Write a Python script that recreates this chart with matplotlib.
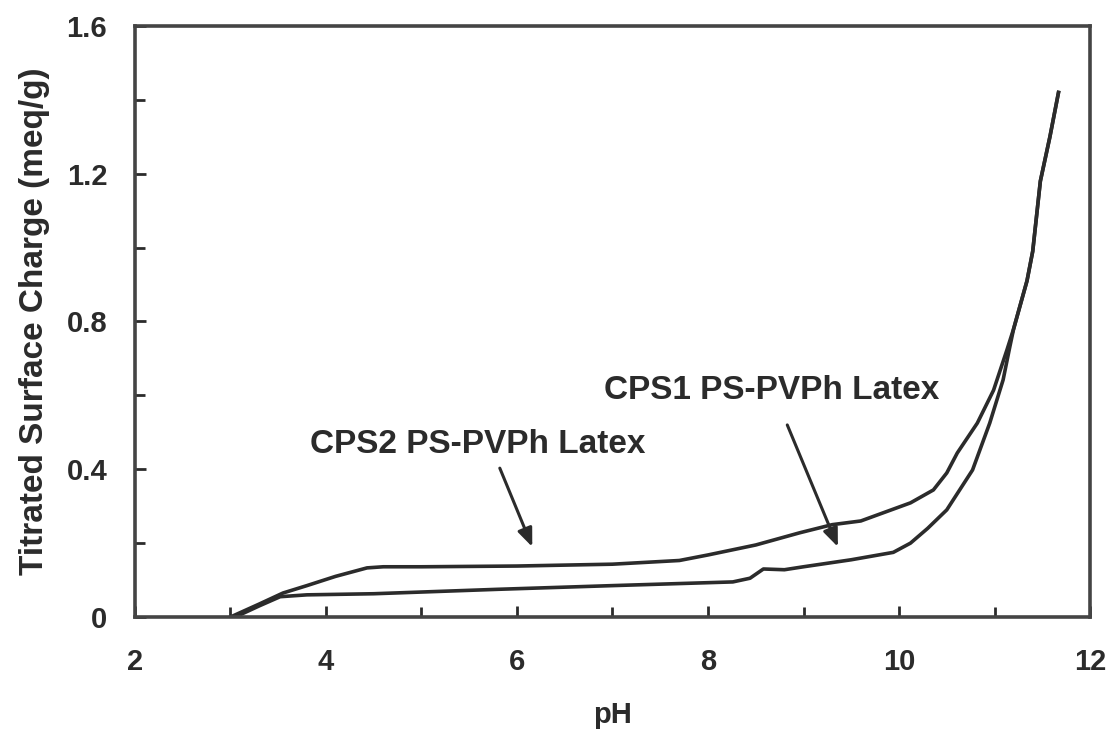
import matplotlib.pyplot as plt
from matplotlib.ticker import MultipleLocator

# CPS2 latex (upper curve at low pH)
ph_cps2 = [3.0, 3.3, 3.55, 3.8, 4.1, 4.43, 4.6, 5.0, 6.0, 7.0, 7.7, 8.0, 8.5,
           8.96, 9.3, 9.6, 10.12, 10.36, 10.5, 10.61, 10.82, 10.99, 11.13,
           11.2, 11.34, 11.4, 11.48, 11.58, 11.67]
q_cps2 = [0.0, 0.035, 0.065, 0.085, 0.11, 0.133, 0.136, 0.136, 0.138, 0.143,
          0.153, 0.168, 0.195, 0.228, 0.25, 0.26, 0.309, 0.344, 0.39, 0.444,
          0.525, 0.614, 0.723, 0.78, 0.91, 0.99, 1.18, 1.30, 1.42]

# CPS1 latex (lower curve at low pH)
ph_cps1 = [3.05, 3.3, 3.52, 3.8, 4.5, 5.8, 7.0, 8.26, 8.44, 8.58, 8.8, 9.0,
           9.5, 9.94, 10.12, 10.3, 10.5, 10.77, 10.95, 11.09, 11.16, 11.2,
           11.34, 11.4, 11.48, 11.58, 11.67]
q_cps1 = [0.0, 0.03, 0.055, 0.06, 0.063, 0.075, 0.085, 0.095, 0.105, 0.13,
          0.128, 0.136, 0.155, 0.175, 0.2, 0.24, 0.29, 0.398, 0.525, 0.642,
          0.731, 0.78, 0.91, 0.99, 1.18, 1.30, 1.42]

plt.rcParams['font.family'] = ['Liberation Sans', 'DejaVu Sans']
ink = '#2b2b2b'

fig = plt.figure(figsize=(11.1, 7.4), dpi=100)
ax = fig.add_axes([0.1216, 0.1662, 0.8604, 0.7987])

ax.plot(ph_cps2, q_cps2, color=ink, lw=2.6, solid_joinstyle='round')
ax.plot(ph_cps1, q_cps1, color=ink, lw=2.6, solid_joinstyle='round')

ax.set_xlim(2, 12)
ax.set_ylim(0, 1.6)
ax.xaxis.set_major_locator(MultipleLocator(2))
ax.xaxis.set_minor_locator(MultipleLocator(1))
ax.yaxis.set_minor_locator(MultipleLocator(0.2))
ax.set_yticks([0, 0.4, 0.8, 1.2, 1.6])
ax.set_yticklabels(['0', '0.4', '0.8', '1.2', '1.6'])

ax.tick_params(which='both', direction='in', color=ink, width=2)
ax.tick_params(which='major', length=8)
ax.tick_params(which='minor', length=7)
ax.tick_params(axis='x', which='major', pad=22)
ax.tick_params(axis='y', which='major', pad=20)
for lab in ax.get_xticklabels() + ax.get_yticklabels():
    lab.set_fontsize(21)
    lab.set_fontweight('bold')
    lab.set_color(ink)

for s in ax.spines.values():
    s.set_linewidth(2.6)
    s.set_color('#444444')

ax.set_xlabel('pH', fontsize=21, fontweight='bold', color=ink, labelpad=18)
ax.set_ylabel('Titrated Surface Charge (meq/g)', fontsize=24,
              fontweight='bold', color=ink, labelpad=12)

arrow = dict(arrowstyle='-|>,head_length=1.1,head_width=0.45',
             color=ink, lw=2.2, shrinkA=0, shrinkB=0)
ax.annotate('', xy=(6.16, 0.19), xytext=(5.82, 0.403), arrowprops=arrow)
ax.annotate('', xy=(9.36, 0.19), xytext=(8.83, 0.52), arrowprops=arrow)
ax.text(5.59, 0.468, 'CPS2 PS-PVPh Latex', fontsize=24, fontweight='bold',
        color=ink, ha='center', va='center')
ax.text(8.67, 0.612, 'CPS1 PS-PVPh Latex', fontsize=24, fontweight='bold',
        color=ink, ha='center', va='center')

fig.savefig('out.png', dpi=100)
